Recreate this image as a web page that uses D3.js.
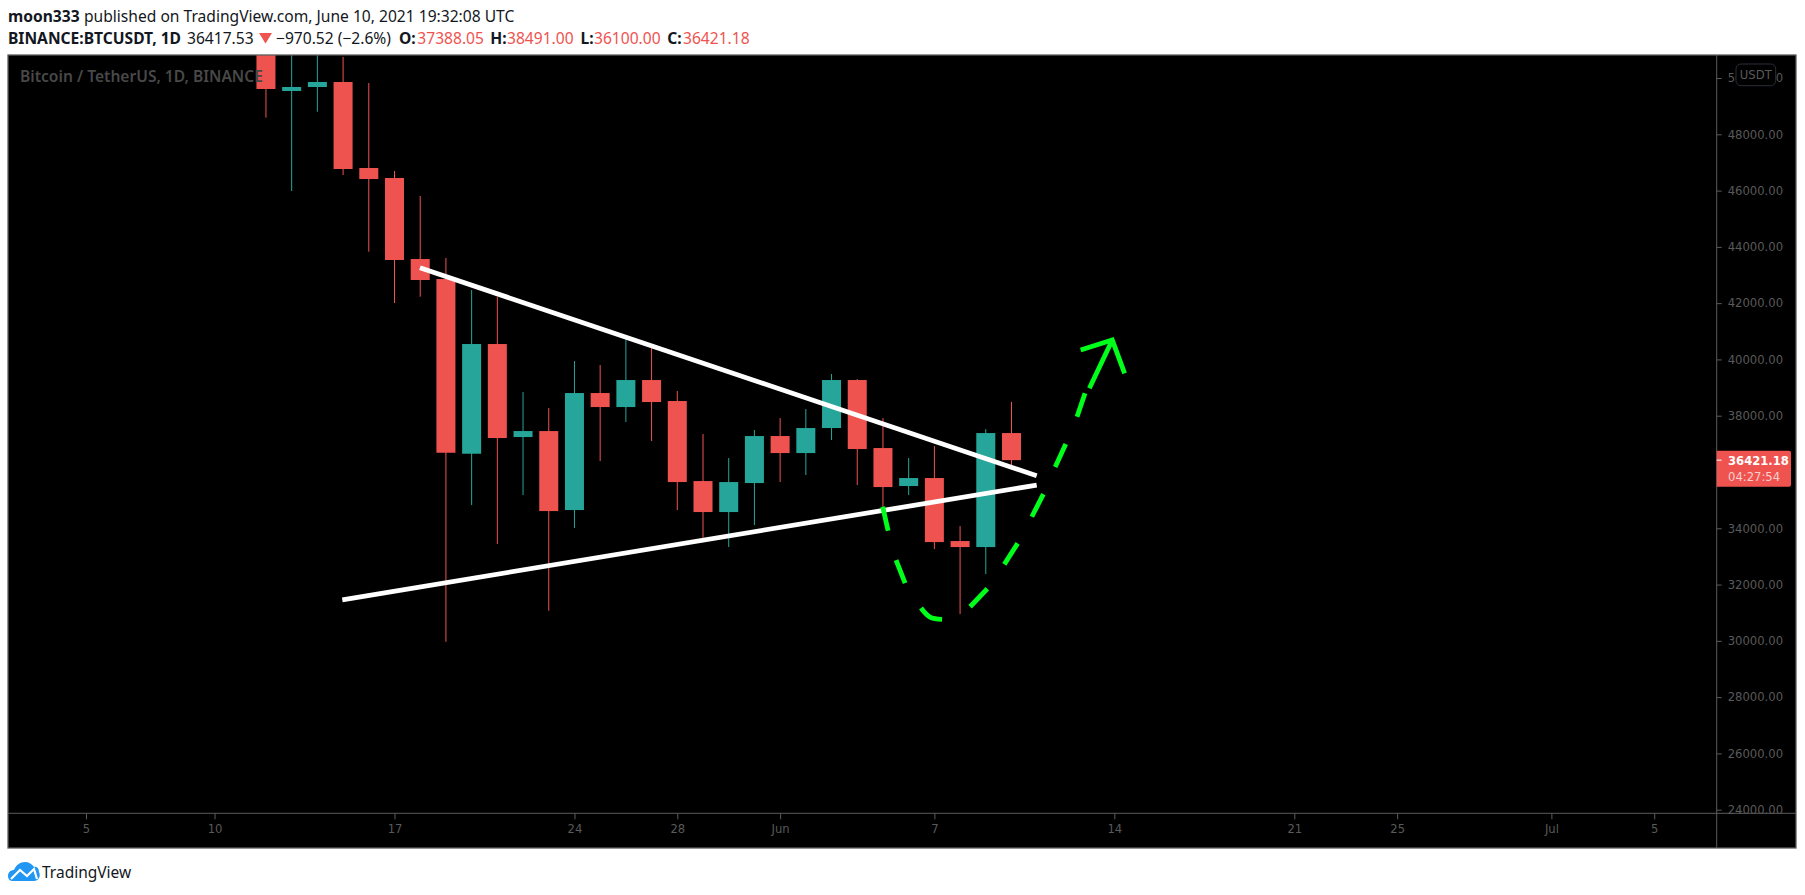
<!DOCTYPE html>
<html><head><meta charset="utf-8">
<script src="https://cdn.jsdelivr.net/npm/d3@7"></script>
<style>
html,body{margin:0;padding:0;background:#fff;overflow:hidden}
svg{display:block}
.hd{font-family:"Noto Sans",sans-serif;font-size:15.6px;fill:#131722}
.ax{font-family:"DejaVu Sans",sans-serif;font-size:11.6px;fill:#5a5a5a}
</style></head><body>
<svg id="c" width="1805" height="895"></svg>
<script>
// ---- data ----
const days  = ["2021-05-12","2021-05-13","2021-05-14","2021-05-15","2021-05-16","2021-05-17","2021-05-18","2021-05-19","2021-05-20","2021-05-21","2021-05-22","2021-05-23","2021-05-24","2021-05-25","2021-05-26","2021-05-27","2021-05-28","2021-05-29","2021-05-30","2021-05-31","2021-06-01","2021-06-02","2021-06-03","2021-06-04","2021-06-05","2021-06-06","2021-06-07","2021-06-08","2021-06-09","2021-06-10"];
const opens = [56700,49539,49681,49859,46802,46447,43568,42857,36649,40547,37242,37455,34648,38806,38308,39268,38522,35678,34577,35607,37278,36673,37562,39268,36851,35501,35785,33546,33333,37384];
const closes= [49610,49681,49859,46767,46411,43533,42822,36684,40547,37207,37455,34612,38806,38308,39268,38486,35643,34577,35643,37278,36673,37562,39268,36816,35465,35785,33510,33333,37384,36421];
const highs = [58000,52000,52000,50747,49823,46696,45807,43604,42466,42228,38841,38273,39943,39801,40714,40405,38877,37349,36496,37491,37917,38237,39481,39304,37917,36496,36922,34079,37526,38491];
const lows  = [48590,45985,48803,46554,43828,42004,42228,29967,34825,33439,35181,31069,34008,36389,37775,37100,34648,33663,33333,34115,35643,35892,37135,35536,34719,35181,33262,30951,32373,36100];

const priceTicks = [50000,48000,46000,44000,42000,40000,38000,36000,34000,32000,30000,28000,26000,24000];
const hiddenPriceTicks = [36000];
const timeTickDates  = ["2021-05-05","2021-05-10","2021-05-17","2021-05-24","2021-05-28","2021-06-01","2021-06-07","2021-06-14","2021-06-21","2021-06-25","2021-07-01","2021-07-05"];
const timeTickLabels = ["5","10","17","24","28","Jun","7","14","21","25","Jul","5"];

const lastPrice = 36421.18;
const countdown = "04:27:54";

// hand-drawn annotations: [days after 17 May, price]
const upperLine = [[0.99,43259],[24.98,35867]];
const lowerLine = [[-2.03,31460],[24.98,35536]];
const greenDashes = [
  [[18.99,34765],[19.20,33912]],
  [[19.51,32871],[19.86,32053]],
  [[20.48,31165],[20.83,30845],[21.30,30763]],
  [[22.39,31211],[23.06,31851]],
  [[23.72,32718],[24.24,33464]],
  [[24.79,34410],[25.24,35216]],
  [[25.70,36176],[26.11,36993]],
  [[26.55,37964],[26.86,38795]],
  [[27.03,38973],[27.92,40689]],
  [[26.69,40334],[27.92,40689],[28.40,39506]]
];

// ---- layout ----
const L=8,T=55,R=1796,B=848,axisX=1716.7,axisY=813.3;
const parse=d3.utcParse("%Y-%m-%d");
const base=parse("2021-05-17");
const x=d3.scaleUtc().domain([base,parse("2021-06-10")]).range([394.5,1011.5]);
const y=d3.scaleLinear().domain([48000,24000]).range([134.3,809.7]);
const dx=o=>x(new Date(+base+o*864e5));
const RED="#ef5350",TEAL="#26a69a",GREEN="#00ff1a",GRID="#5c5c5c";

const svg=d3.select("#c");
svg.append("rect").attr("x",L).attr("y",T).attr("width",R-L).attr("height",B-T).attr("fill","#000");
svg.append("clipPath").attr("id","pane").append("rect").attr("x",L).attr("y",T).attr("width",axisX-L).attr("height",axisY-T);
const pane=svg.append("g").attr("clip-path","url(#pane)");

// candles
const candles=days.map((d,i)=>({d:parse(d),o:opens[i],c:closes[i],h:highs[i],l:lows[i]}));
const col=d=>d.c>=d.o?TEAL:RED;
pane.selectAll("line.w").data(candles).join("line").attr("class","w")
  .attr("x1",d=>x(d.d)).attr("x2",d=>x(d.d)).attr("y1",d=>y(d.h)).attr("y2",d=>y(d.l))
  .attr("stroke",col).attr("stroke-width",1);
pane.selectAll("rect.b").data(candles).join("rect").attr("class","b")
  .attr("x",d=>x(d.d)-9.5).attr("width",19)
  .attr("y",d=>y(Math.max(d.o,d.c))).attr("height",d=>Math.max(1,Math.abs(y(d.o)-y(d.c))))
  .attr("fill",col);

// annotations
const line=d3.line().x(p=>dx(p[0])).y(p=>y(p[1]));
pane.selectAll("path.t").data([upperLine,lowerLine]).join("path").attr("class","t")
  .attr("d",line).attr("fill","none").attr("stroke","#fff").attr("stroke-width",4.8);
const curve=d3.line().x(p=>dx(p[0])).y(p=>y(p[1])).curve(d3.curveCatmullRom);
pane.selectAll("path.g").data(greenDashes).join("path").attr("class","g")
  .attr("d",(d,i)=>i===9?line(d):curve(d)).attr("fill","none").attr("stroke",GREEN).attr("stroke-width",4.8).attr("stroke-linejoin","miter");

// watermark
pane.append("text").attr("x",20).attr("y",82).attr("font-family","'Noto Sans',sans-serif").attr("font-size",15.6).attr("font-weight",600)
  .attr("fill","#484848").text("Bitcoin / TetherUS, 1D, BINANCE");

// frame
svg.append("rect").attr("x",L).attr("y",T).attr("width",R-L).attr("height",B-T).attr("fill","none").attr("stroke",GRID).attr("stroke-width",1.3);
svg.append("line").attr("x1",axisX).attr("x2",axisX).attr("y1",T).attr("y2",B).attr("stroke",GRID).attr("stroke-width",1);
svg.append("line").attr("x1",L).attr("x2",R).attr("y1",axisY).attr("y2",axisY).attr("stroke",GRID).attr("stroke-width",1);

// price axis
const yAxis=d3.axisRight(y).tickValues(priceTicks.filter(v=>!hiddenPriceTicks.includes(v))).tickSize(5).tickPadding(6).tickFormat(d3.format(".2f"));
const gy=svg.append("g").attr("transform",`translate(${axisX},0)`).call(yAxis);
gy.select(".domain").remove();
gy.selectAll(".tick line").attr("stroke",GRID);
gy.selectAll(".tick text").attr("class","ax").attr("fill",null);

// time axis
const tickDs=timeTickDates.map(parse);
const xAxis=d3.axisBottom(x).tickValues(tickDs).tickSize(6).tickPadding(5).tickFormat((d,i)=>timeTickLabels[i]);
const gx=svg.append("g").attr("transform",`translate(0,${axisY})`).call(xAxis);
gx.select(".domain").remove();
gx.selectAll(".tick line").attr("stroke",GRID);
gx.selectAll(".tick text").attr("class","ax").attr("fill",null);

// USDT badge
svg.append("rect").attr("x",1736).attr("y",64).attr("width",39.7).attr("height",21.7).attr("rx",5).attr("fill","#000").attr("stroke","#2a2e39");
svg.append("text").attr("class","ax").attr("x",1755.8).attr("y",79).attr("text-anchor","middle").text("USDT");

// last price label
const yl=y(lastPrice);
svg.append("path").attr("d",`M${axisX},${yl-9.5}H1789a2,2 0 0 1 2,2V${yl+24.5}a2,2 0 0 1 -2,2H${axisX}Z`).attr("fill",RED);
svg.append("line").attr("x1",axisX).attr("x2",axisX+5).attr("y1",yl).attr("y2",yl).attr("stroke","#fff");
svg.append("text").attr("class","ax").attr("x",1728).attr("y",yl+4.5).style("fill","#fff").style("font-weight","bold").text(d3.format(".2f")(lastPrice));
svg.append("text").attr("class","ax").attr("x",1728).attr("y",yl+20.5).style("fill","#fbd0cf").text(countdown);

// header
const hd=(t,px,py,o={})=>svg.append("text").attr("class","hd").attr("x",px).attr("y",py).style("font-weight",o.b?"700":"400").style("fill",o.c||null).text(t);
hd("moon333",8,22,{b:1});
hd("published on TradingView.com, June 10, 2021 19:32:08 UTC",84,22);
hd("BINANCE:BTCUSDT, 1D",8,43.5,{b:1});
hd("36417.53",187,43.5);
svg.append("path").attr("d",d3.line()([[259,33],[272,33],[265.5,43.5]])+"Z").attr("fill",RED);
hd("−970.52 (−2.6%)",276,43.5);
const ohlcKeys=["O:","H:","L:","C:"],ohlcVals=["37388.05","38491.00","36100.00","36421.18"],ohlcKX=[399,490.3,580.6,667.3],ohlcVX=[417.3,507,594,683];
ohlcKeys.forEach((k,i)=>{hd(k,ohlcKX[i],43.5,{b:1});hd(ohlcVals[i],ohlcVX[i],43.5,{c:RED});});

// logo
const lg=svg.append("g").attr("transform","translate(8,862)");
lg.append("path").attr("fill","#2196f3").attr("d","M0,14 C0,10 3,8 6,8 C8,3 12,0 17,0 C21,0 24,2 26,5 C29,4 31,7 31,10 C32,12 32,14 31,16 C30,18 28,19 26,19 H5 C2,19 0,17 0,14Z");
lg.append("path").attr("fill","none").attr("stroke","#fff").attr("stroke-width",2.2).attr("d",d3.line()([[3,17],[12,8],[19,14],[26,7],[29,17]]));
svg.append("text").attr("x",42).attr("y",878).attr("font-family","'Noto Sans',sans-serif").attr("font-size",15.5).attr("fill","#131722").text("TradingView");
</script></body></html>
